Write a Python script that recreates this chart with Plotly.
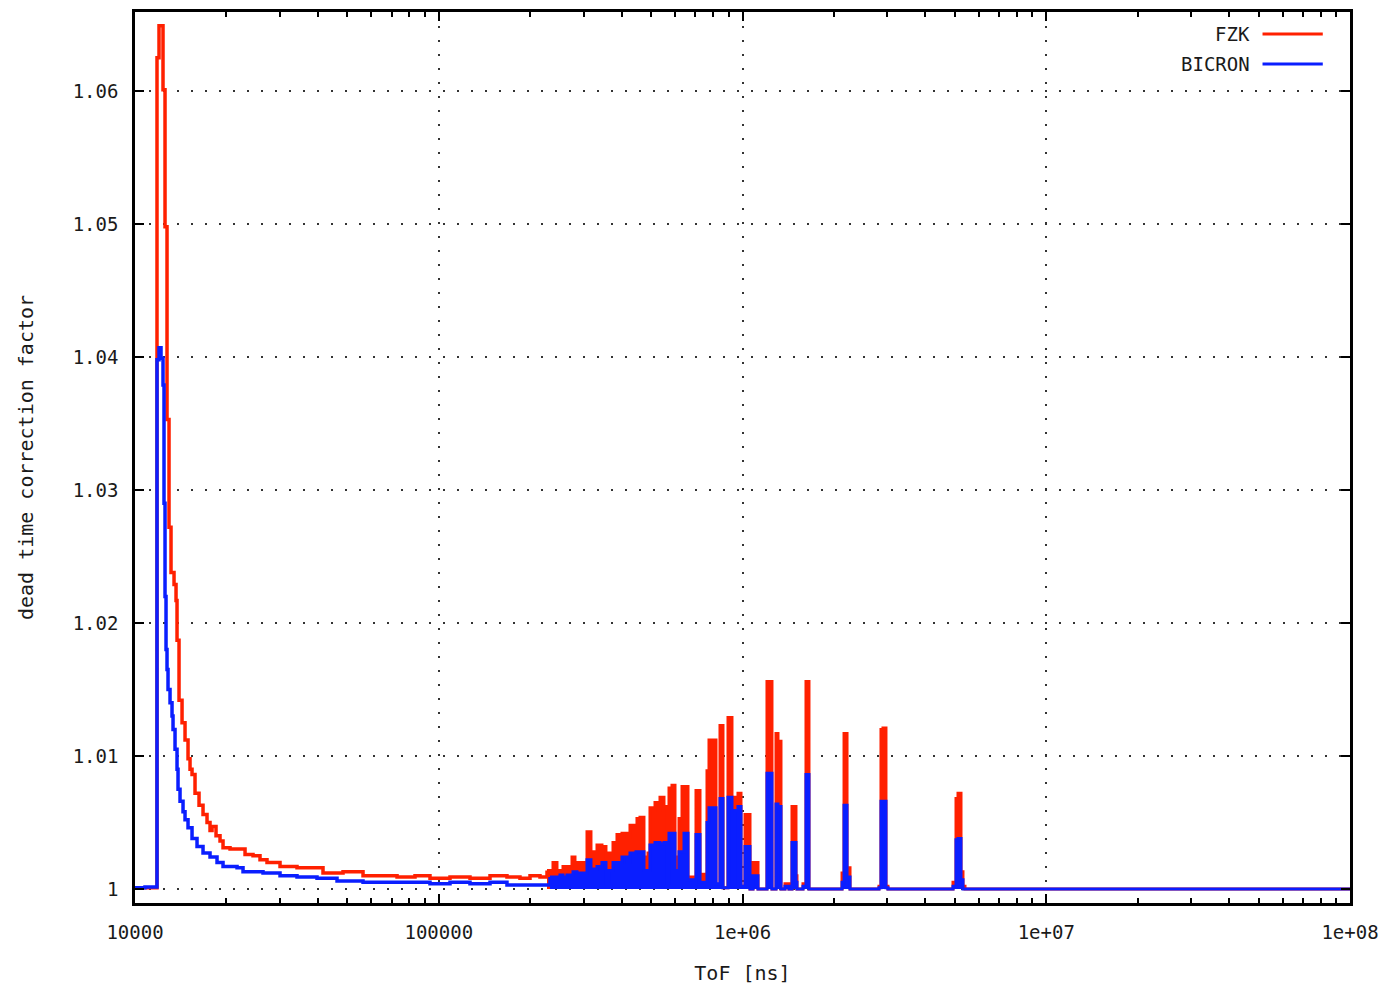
import plotly.graph_objects as go

# Dead-time correction factor versus time of flight, two detector setups.
# Values are step (histogram) samples: each value holds until the next ToF edge.

tof_fzk = [
    10000, 11815, 11996, 12366, 12555, 12747, 12942, 13140, 13443, 13648,
    13752, 13962, 14284, 14612, 14948, 15176, 15408, 15762, 16248, 16748,
    17264, 17661, 17931, 18483, 19052, 19490, 20553, 23028, 24466, 25796,
    27203, 30021, 34148, 41588, 48399, 56324, 72900, 83532, 93578, 108900,
    126720, 147490, 167740, 185100, 199730, 215440, 227180, 237740, 245050, 256460,
    274560, 280880, 307630, 317090, 331850, 344660, 355270, 363440, 374640, 386170,
    401080, 416560, 426140, 439250, 449350, 459680, 473850, 488450, 495920, 515100,
    526950, 535000, 551500, 564180, 572800, 585980, 599480, 617930, 632150, 661550,
    687110, 702900, 724560, 741230, 764030, 775700, 817980, 843150, 862530, 895820,
    923380, 944620, 966340, 988680, 1019100, 1058500, 1082800, 1124700, 1203900, 1250400,
    1289000, 1308700, 1338800, 1379900, 1422400, 1455200, 1500000, 1511400, 1581700, 1618100,
    1655300, 2126500, 2159000, 2208600, 2259400, 2813900, 2856900, 2900600, 2967200, 3012500,
    4931700, 5045100, 5122200, 5240000, 5319900, 5401300, 100000000,
]
dtc_fzk = [
    1.0001, 1.0625, 1.0649, 1.0601, 1.0498, 1.0353, 1.0272, 1.0238, 1.0229, 1.0217,
    1.0187, 1.0142, 1.0125, 1.0112, 1.0098, 1.0090, 1.0086, 1.0072, 1.0063, 1.0056,
    1.0050, 1.0044, 1.0047, 1.0040, 1.0036, 1.0031, 1.0030, 1.0026, 1.0025, 1.0022,
    1.0020, 1.0017, 1.0016, 1.0012, 1.0013, 1.0010, 1.0009, 1.0010, 1.0008, 1.0009,
    1.0008, 1.0010, 1.0009, 1.0008, 1.0010, 1.0009, 1.0014, 1.0020, 1.0014, 1.0017,
    1.0024, 1.0020, 1.0043, 1.0028, 1.0033, 1.0032, 1.0008, 1.0027, 1.0035, 1.0041,
    1.0042, 1.0039, 1.0048, 1.0046, 1.0053, 1.0054, 1.0024, 1.0027, 1.0061, 1.0065,
    1.0059, 1.0069, 1.0062, 1.0005, 1.0076, 1.0078, 1.0024, 1.0053, 1.0077, 1.0009,
    1.0003, 1.0074, 1.0002, 1.0011, 1.0089, 1.0112, 1.0003, 1.0123, 1.0001, 1.0129,
    1.0003, 1.0069, 1.0072, 1.0002, 1.0056, 1.0000, 1.0020, 1.0000, 1.0156, 1.0000,
    1.0117, 1.0111, 1.0000, 1.0004, 1.0000, 1.0062, 1.0010, 1.0000, 1.0004, 1.0156,
    1.0000, 1.0012, 1.0117, 1.0016, 1.0000, 1.0002, 1.0120, 1.0121, 1.0002, 1.0000,
    1.0005, 1.0068, 1.0072, 1.0013, 1.0002, 1.0000, 1.0000,
]

tof_bicron = [
    10000, 10787, 11815, 11996, 12180, 12366, 12460, 12555, 12651, 12747,
    12844, 13041, 13240, 13341, 13545, 13752, 13857, 14068, 14392, 14612,
    14948, 15408, 16003, 16748, 17661, 18624, 19490, 21673, 22681, 26389,
    30021, 34148, 39738, 46248, 56324, 72900, 93578, 108900, 126720, 147490,
    167740, 199730, 232400, 250700, 256460, 264360, 276650, 285170, 307630, 317090,
    331850, 344660, 355270, 363440, 374640, 401080, 416560, 426140, 445960, 473850,
    495920, 515100, 535000, 551500, 564180, 572800, 599480, 617930, 641810, 661550,
    687110, 702900, 724560, 764030, 775700, 817980, 843150, 862530, 895820, 923380,
    944620, 966340, 988680, 1019100, 1058500, 1082800, 1124700, 1203900, 1250400, 1289000,
    1308700, 1338800, 1379900, 1422400, 1455200, 1500000, 1511400, 1581700, 1618100, 1655300,
    2126500, 2159000, 2208600, 2259400, 2813900, 2856900, 2967200, 3012500, 4931700, 5045100,
    5122200, 5240000, 5319900, 100000000,
]
dtc_bicron = [
    1.0001, 1.00015, 1.0398, 1.0407, 1.0399, 1.0379, 1.0290, 1.0220, 1.0180, 1.0165,
    1.0150, 1.0140, 1.0130, 1.0120, 1.0105, 1.0090, 1.0075, 1.0066, 1.0058, 1.0052,
    1.0046, 1.0038, 1.0032, 1.0027, 1.0024, 1.0020, 1.0017, 1.0016, 1.0013, 1.0012,
    1.0010, 1.0009, 1.0008, 1.0006, 1.0005, 1.0005, 1.0004, 1.0005, 1.0004, 1.0005,
    1.0003, 1.0003, 1.0009, 1.00105, 1.0009, 1.00105, 1.0013, 1.0012, 1.0022, 1.0015,
    1.0017, 1.0020, 1.00045, 1.0014, 1.0020, 1.0024, 1.0020, 1.0027, 1.0028, 1.0014,
    1.0033, 1.0035, 1.0034, 1.0035, 1.00045, 1.0042, 1.0014, 1.0028, 1.0042, 1.0007,
    1.00015, 1.0041, 1.0005, 1.0050, 1.0061, 1.0004, 1.0068, 1.0001, 1.0069, 1.0002,
    1.0059, 1.0062, 1.0002, 1.0032, 1.0000, 1.0010, 1.0000, 1.0087, 1.0000, 1.0064,
    1.0062, 1.0000, 1.0002, 1.0000, 1.0035, 1.0005, 1.0000, 1.0002, 1.0086, 1.0000,
    1.0005, 1.0063, 1.0009, 1.0000, 1.0001, 1.0066, 1.0001, 1.0000, 1.0002, 1.0037,
    1.0038, 1.0007, 1.0000, 1.0000,
]

# Above this ToF the histogram bins are so dense that the curves read as solid
# areas down to the no-correction level.
dense_from = [227180, 232400]
unity = 1.0

x_tickvals = [1e4, 1e5, 1e6, 1e7, 1e8]
x_ticktext = ["10000", "100000", "1e+06", "1e+07", "1e+08"]
y_tickvals = [1.00, 1.01, 1.02, 1.03, 1.04, 1.05, 1.06]
y_ticktext = ["1", "1.01", "1.02", "1.03", "1.04", "1.05", "1.06"]

series_names = ["FZK", "BICRON"]
series_colors = ["#ff2000", "#0a1eff"]

FONT = "DejaVu Sans Mono"
TEXT_COLOR = "#1a1a1a"
LINE_W = 3.5

fig = go.Figure()
for name, xs, ys, col, cut in zip(series_names, [tof_fzk, tof_bicron],
                                  [dtc_fzk, dtc_bicron], series_colors, dense_from):
    i0 = xs.index(cut)
    # sparse part: plain step line
    fig.add_trace(go.Scatter(
        x=xs[:i0 + 1], y=ys[:i0 + 1], mode="lines", name=name,
        line=dict(color=col, width=LINE_W, shape="hv"), showlegend=False,
    ))
    # level 1 reference for the filled part
    fig.add_trace(go.Scatter(
        x=[xs[i0], xs[-1]], y=[unity, unity], mode="lines",
        line=dict(width=0, color=col), showlegend=False, hoverinfo="skip",
    ))
    # dense part: step line filled down to 1
    fig.add_trace(go.Scatter(
        x=xs[i0:], y=ys[i0:], mode="lines", name=name,
        line=dict(color=col, width=3, shape="hv"),
        fill="tonexty", fillcolor=col, showlegend=False,
    ))

minor_vals = [m * 10 ** e for e in range(4, 8) for m in range(2, 10)]

axis_common = dict(
    showline=True, linecolor="black", linewidth=2.5, mirror="allticks",
    ticks="inside", ticklen=9, tickwidth=2, tickcolor="black",
    showgrid=True, gridcolor="#333333", gridwidth=1.6, griddash="2px,12px",
    zeroline=False, automargin=False,
    tickfont=dict(family=FONT, size=19, color=TEXT_COLOR),
)

fig.update_xaxes(
    type="log", range=[4, 8],
    tickmode="array", tickvals=x_tickvals, ticktext=x_ticktext,
    ticklabelstandoff=10,
    minor=dict(tickmode="array", tickvals=minor_vals, ticks="inside",
               ticklen=5, tickwidth=2, tickcolor="black", showgrid=False),
    title=dict(text="ToF [ns]", font=dict(family=FONT, size=20, color=TEXT_COLOR), standoff=25),
    **axis_common,
)
fig.update_yaxes(
    range=[0.998947, 1.065940],
    tickmode="array", tickvals=y_tickvals, ticktext=y_ticktext,
    ticklabelstandoff=10,
    title=dict(text="dead time correction factor",
               font=dict(family=FONT, size=20, color=TEXT_COLOR), standoff=34),
    **axis_common,
)

# Legend drawn gnuplot-style: label on the left, line sample on the right.
legend_rows = [0.9753, 0.9416]
for name, col, yrow in zip(series_names, series_colors, legend_rows):
    fig.add_annotation(
        xref="paper", yref="paper", x=0.9194, y=yrow, xanchor="right", yanchor="middle",
        text=name, showarrow=False, font=dict(family=FONT, size=19, color=TEXT_COLOR),
    )
    fig.add_shape(
        type="line", xref="paper", yref="paper",
        x0=0.9280, x1=0.9776, y0=yrow, y1=yrow,
        line=dict(color=col, width=3),
    )

fig.update_layout(
    width=1388, height=987,
    margin=dict(l=135, r=38, t=12, b=84),
    paper_bgcolor="white", plot_bgcolor="white",
    showlegend=False,
)

fig.write_html("out.html")
